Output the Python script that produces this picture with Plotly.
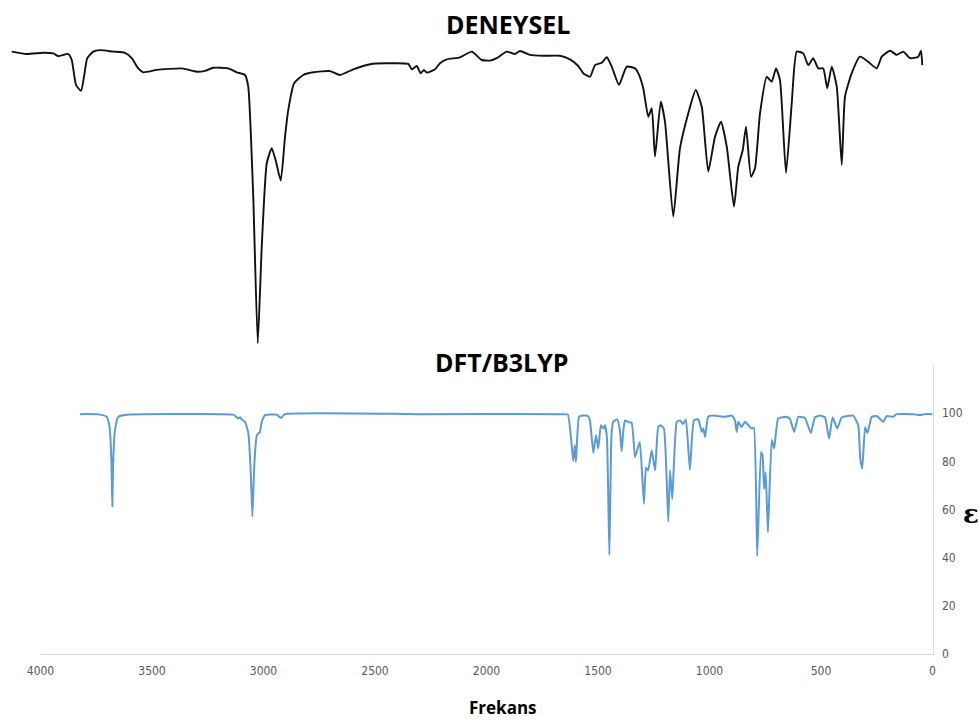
import plotly.graph_objects as go

# ---------------- Experimental spectrum (DENEYSEL) ----------------
exp_freq = [3993, 3933, 3867, 3827, 3807, 3767, 3753, 3736, 3716, 3704, 3691, 3667, 3640, 3587,
            3540, 3513, 3487, 3467, 3413, 3313, 3253, 3220, 3187, 3127, 3093, 3060, 3047, 3027,
            3009, 2993, 2973, 2953, 2936, 2917, 2900, 2887, 2864, 2827, 2787, 2720, 2680, 2627,
            2560, 2493, 2407, 2393, 2373, 2357, 2344, 2333, 2300, 2280, 2253, 2200, 2153, 2113,
            2080, 2053, 2013, 1980, 1960, 1920, 1867, 1800, 1760, 1727, 1707, 1680, 1660, 1633,
            1613, 1593, 1564, 1533, 1500, 1487, 1467, 1447, 1433, 1420, 1397, 1380, 1347, 1320,
            1287, 1257, 1233, 1207, 1180, 1156, 1133, 1104, 1087, 1069, 1056, 1036, 1020, 1000,
            973, 953, 936, 920, 896, 873, 853, 827, 807, 787, 767, 747, 731, 713, 693, 673, 660,
            633, 600, 567, 533, 513, 480, 453, 427, 400, 367, 356, 351]
exp_trans = [97.8, 97.0, 97.4, 97.2, 96.3, 97.0, 95.0, 86.7, 84.7, 89.4, 95.6, 97.8, 98.3, 97.8,
             97.4, 95.6, 92.2, 90.9, 91.7, 92.2, 91.1, 91.4, 92.4, 92.2, 90.9, 90.0, 86.1, 49.4,
             0.6, 32.8, 60.6, 65.6, 61.1, 54.8, 69.4, 78.3, 87.2, 90.0, 90.9, 91.3, 90.0, 91.9,
             93.6, 93.9, 93.7, 91.9, 93.0, 90.6, 91.7, 90.8, 91.9, 93.9, 95.2, 95.9, 97.8, 95.0,
             94.8, 95.6, 97.8, 97.0, 98.0, 96.7, 96.4, 96.4, 95.2, 93.0, 90.6, 89.4, 93.3, 94.1,
             95.9, 92.8, 86.7, 92.8, 92.2, 90.6, 85.6, 76.1, 78.9, 62.8, 81.1, 74.4, 42.8, 65.6,
             77.2, 85.0, 79.4, 57.8, 69.4, 74.4, 66.1, 46.1, 59.4, 65.0, 72.8, 56.1, 58.9, 77.2,
             89.4, 87.8, 92.2, 88.3, 57.4, 80.6, 97.8, 97.2, 93.3, 95.6, 92.2, 92.2, 85.6, 92.8,
             86.1, 60.0, 82.8, 90.6, 96.1, 94.4, 92.2, 96.1, 98.1, 96.7, 97.8, 95.6, 96.1, 98.1, 93.3]

# ---------------- Calculated spectrum (DFT/B3LYP) ----------------
dft_freq = [3823, 3740, 3703, 3690, 3682, 3678, 3674, 3666, 3651, 3600, 3200, 3135, 3113, 3105,
            3098, 3083, 3068, 3057, 3050, 3041, 3030, 3016, 3008, 2993, 2941, 2922, 2904, 2300,
            1660, 1635, 1611, 1604, 1599, 1585, 1567, 1545, 1536, 1521, 1509, 1499, 1487, 1475, 1469,
            1460, 1449, 1440, 1432, 1414, 1402, 1394, 1386, 1379, 1364, 1349, 1334, 1320, 1312,
            1294, 1285, 1275, 1259, 1244, 1230, 1219, 1204, 1185, 1177, 1167, 1147, 1132, 1119,
            1106, 1088, 1070, 1050, 1035, 1028, 1020, 1006, 984, 931, 899, 886, 878, 871, 856,
            841, 826, 811, 801, 786, 769, 762, 755, 748, 738, 721, 710, 692, 654, 639, 620, 602,
            572, 546, 527, 505, 482, 464, 448, 427, 407, 356, 333, 324, 315, 302, 291, 273, 250,
            221, 206, 176, 161, 88, 57, 34, 0]
dft_eps = [99.6, 99.5, 98.5, 94.0, 80.0, 61.3, 80.0, 93.0, 98.5, 99.4, 99.6, 99.4, 97.8, 98.3,
           97.4, 96.4, 91.7, 75.0, 57.0, 79.0, 90.8, 92.2, 96.4, 99.2, 99.4, 98.0, 99.6, 99.6,
           99.6, 99.4, 80.1, 86.7, 79.7, 98.5, 99.0, 98.8, 97.0, 83.5, 90.8, 85.3, 95.0, 93.6, 95.0,
           90.0, 41.1, 90.0, 96.4, 97.4, 93.0, 84.2, 93.0, 97.0, 96.3, 96.0, 81.7, 86.0, 88.0,
           62.4, 77.4, 76.2, 84.6, 76.2, 94.3, 95.0, 93.5, 55.0, 76.2, 64.4, 96.4, 97.0, 95.5,
           97.4, 76.5, 97.0, 97.4, 92.2, 93.6, 90.1, 98.5, 99.0, 98.5, 99.0, 97.0, 92.2, 96.4, 94.3,
           96.4, 95.0, 93.6, 94.0, 40.6, 83.9, 82.5, 68.6, 75.5, 50.5, 89.0, 85.3, 97.8, 98.5, 97.5,
           92.2, 98.5, 98.0, 91.8, 98.3, 99.0, 98.3, 89.4, 98.3, 93.6, 98.3, 99.0, 95.0, 81.1, 77.0,
           94.3, 91.8, 98.5, 98.8, 96.4, 98.8, 98.5, 99.6, 99.6, 99.2, 99.6, 99.6]

x_ticks = [4000, 3500, 3000, 2500, 2000, 1500, 1000, 500, 0]
y_ticks = [0, 20, 40, 60, 80, 100]

W, H = 979, 720

fig = go.Figure()
fig.add_trace(go.Scatter(x=exp_freq, y=exp_trans, mode="lines",
                         line=dict(color="#111111", width=1.9, shape="spline", smoothing=0.5),
                         xaxis="x", yaxis="y", showlegend=False))
fig.add_trace(go.Scatter(x=dft_freq, y=dft_eps, mode="lines",
                         line=dict(color="#5B9BD5", width=2, shape="spline", smoothing=0.4),
                         xaxis="x2", yaxis="y2", showlegend=False))

tick_font = dict(family="Liberation Sans Narrow, DejaVu Sans Condensed, Arial", size=12, color="#595959")


def ann(text, px, py, size, family):
    return dict(text=text, x=px / W, y=1 - py / H, xref="paper", yref="paper",
                xanchor="center", yanchor="middle", showarrow=False,
                font=dict(family=family, size=size, color="black"))


fig.update_layout(
    template="none",
    width=W, height=H,
    autosize=False,
    margin=dict(l=0, r=0, t=0, b=0, pad=0, autoexpand=False),
    paper_bgcolor="white", plot_bgcolor="white",
    showlegend=False,
    xaxis=dict(domain=[10 / W, 925 / W], range=[4000, 340], visible=False, automargin=False),
    yaxis=dict(domain=[1 - 345 / H, 1 - 45 / H], range=[0, 100], visible=False, automargin=False),
    xaxis2=dict(domain=[40.5 / W, 932.5 / W], range=[4000, 0], anchor="y2",
                tickvals=x_ticks, ticks="", showgrid=False, zeroline=False,
                showline=True, linecolor="#D9D9D9", linewidth=1, automargin=False,
                tickfont=tick_font, ticklabelstandoff=6),
    yaxis2=dict(domain=[1 - 654 / H, 1 - 365 / H], range=[0, 120], anchor="x2",
                side="right", tickvals=y_ticks, ticks="", showgrid=False, zeroline=False,
                showline=True, linecolor="#D9D9D9", linewidth=1, automargin=False,
                tickfont=tick_font, ticklabelstandoff=6),
    annotations=[
        ann("<b>DENEYSEL</b>", 508, 24, 25, "Open Sans"),
        ann("<b>DFT/B3LYP</b>", 502, 362, 25, "Open Sans"),
        ann("<b>Frekans</b>", 503, 707, 17, "Open Sans"),
        ann("<b>ε</b>", 971, 514, 26, "DejaVu Serif"),
    ],
)

fig.write_html("out.html",
               config={"displayModeBar": False},
               post_script="document.body.style.margin='0';document.body.style.padding='0';"
                           "document.body.style.overflow='hidden';")
